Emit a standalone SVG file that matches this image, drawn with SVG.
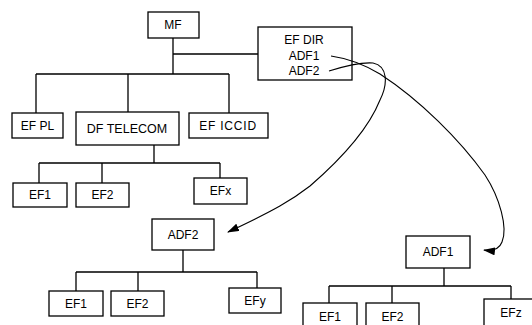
<svg xmlns="http://www.w3.org/2000/svg" width="532" height="325" viewBox="0 0 532 325">
<style>
.box{fill:#fff;stroke:#000;stroke-width:1.3}
.ln{fill:none;stroke:#000;stroke-width:1.3}
.cv{fill:none;stroke:#000;stroke-width:1.1}
text{font-family:"Liberation Sans",Arial,sans-serif;font-size:12px;text-anchor:middle;fill:#000}
</style>
<defs>
<marker id="ah" markerWidth="12" markerHeight="8" refX="11" refY="4" orient="auto" markerUnits="userSpaceOnUse">
<path d="M0,0 L12,4 L0,8 Z" fill="#000"/>
</marker>
</defs>
<rect width="532" height="325" fill="#fff"/>
<g id="MF"><rect class="box" x="148" y="12" width="51" height="26"/><text x="173" y="29">MF</text></g>
<g id="EFDIR"><rect class="box" x="258" y="27" width="94" height="53"/><text x="304" y="44">EF DIR</text><text x="304" y="60">ADF1</text><text x="304" y="75">ADF2</text></g>
<g id="EFPL"><rect class="box" x="12" y="113" width="51" height="25"/><text x="37.5" y="130">EF PL</text></g>
<g id="DFTELECOM"><rect class="box" x="76" y="112" width="103" height="33"/><text x="127" y="133" style="font-size:12.5px">DF TELECOM</text></g>
<g id="EFICCID"><rect class="box" x="189" y="113" width="79" height="25"/><text x="228" y="130" style="letter-spacing:0.8px">EF ICCID</text></g>
<g id="EF1a"><rect class="box" x="13" y="183" width="54" height="24"/><text x="40" y="199">EF1</text></g>
<g id="EF2a"><rect class="box" x="76" y="183" width="53" height="24"/><text x="102.5" y="199">EF2</text></g>
<g id="EFx"><rect class="box" x="194" y="178" width="53" height="26"/><text x="220.5" y="195">EFx</text></g>
<g id="ADF2"><rect class="box" x="152" y="219" width="62" height="31"/><text x="183" y="239">ADF2</text></g>
<g id="EF1b"><rect class="box" x="49" y="291" width="54" height="25"/><text x="76" y="308">EF1</text></g>
<g id="EF2b"><rect class="box" x="111" y="291" width="53" height="25"/><text x="137.5" y="308">EF2</text></g>
<g id="EFy"><rect class="box" x="229" y="288" width="52" height="25"/><text x="255" y="305">EFy</text></g>
<g id="ADF1"><rect class="box" x="406" y="236" width="64" height="32"/><text x="438" y="256">ADF1</text></g>
<g id="EF1c"><rect class="box" x="303" y="303" width="54" height="30"/><text x="330" y="321">EF1</text></g>
<g id="EF2c"><rect class="box" x="366" y="303" width="53" height="30"/><text x="392.5" y="321">EF2</text></g>
<g id="EFz"><rect class="box" x="484" y="299" width="60" height="34"/><text x="511" y="317">EFz</text></g>
<g id="connectors">
<path class="ln" d="M173,38 V74 M173,54 H258 M36,74 H229 M36,74 V113 M128,74 V112 M229,74 V113"/>
<path class="ln" d="M154,145 V163 M39,163 H220 M39,163 V183 M102,163 V183 M220,163 V178"/>
<path class="ln" d="M183,250 V272 M76,272 H257 M76,272 V291 M138,272 V291 M257,272 V288"/>
<path class="ln" d="M444,268 V286 M329,286 H511 M329,286 V303 M392,286 V303 M511,286 V299"/>
<path class="cv" marker-end="url(#ah)" d="M331,56 C345,58 360,62 380,74 C420,100 460,140 485,175 C500,198 508,228 502,242 C499,250 492,251 484,250"/>
<path class="cv" marker-end="url(#ah)" d="M329,71 C345,66 360,62 373,63 C388,66 388,84 380,100 C368,130 340,160 310,186 C292,200 275,210 228,232"/>
</g>
</svg>
